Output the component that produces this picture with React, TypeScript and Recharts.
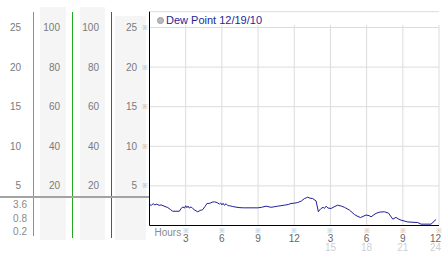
import React from "react";
import {
  ComposedChart,
  Line,
  XAxis,
  YAxis,
  CartesianGrid,
  ReferenceLine,
} from "recharts";

// hours since midnight, dew point (°C)
const hours = [
  0, 0.15, 0.3, 0.45, 0.6, 0.8, 0.96, 1.2, 1.51, 1.75, 1.92, 2.2, 2.48, 2.6,
  2.75, 2.9, 3.0, 3.1, 3.2, 3.3, 3.45, 3.58, 3.75, 4.0, 4.2, 4.41, 4.6, 4.77,
  5.0, 5.2, 5.38, 5.6, 5.8, 5.9, 6.0, 6.1, 6.21, 6.35, 6.5, 6.62, 6.9, 7.17,
  7.5, 7.87, 8.5, 8.97, 9.3, 9.66, 10.08, 10.4, 10.63, 10.9, 11.19, 11.5,
  11.73, 12.0, 12.29, 12.6, 12.84, 13.0, 13.12, 13.3, 13.53, 13.81, 14.0,
  14.1, 14.22, 14.4, 14.5, 14.64, 14.8, 15.05, 15.3, 15.6, 15.9, 16.16, 16.58,
  16.99, 17.2, 17.49, 17.7, 17.95, 18.2, 18.37, 18.6, 18.78, 19.1, 19.48,
  19.81, 20.17, 20.44, 20.6, 20.86, 21.41, 22.24, 22.51, 23.34, 23.76,
];
const dewPoint = [
  2.65, 2.55, 2.75, 2.6, 2.7, 2.55, 2.6, 2.45, 2.27, 2.0, 1.8, 1.8, 1.8, 2.1,
  2.35, 2.2, 2.5, 2.25, 2.45, 2.2, 2.35, 2.15, 1.95, 1.73, 1.9, 2.0, 2.4, 2.78,
  2.8, 2.95, 2.99, 2.9, 2.7, 2.85, 2.6, 2.8, 2.55, 2.75, 2.5, 2.5, 2.4, 2.32,
  2.25, 2.23, 2.23, 2.23, 2.3, 2.44, 2.3, 2.38, 2.44, 2.5, 2.57, 2.65, 2.78,
  2.82, 2.9, 3.1, 3.4, 3.5, 3.57, 3.45, 3.4, 3.1, 1.73, 1.95, 2.15, 2.3, 2.15,
  2.44, 2.2, 2.15, 2.35, 2.57, 2.45, 2.3, 1.94, 1.39, 1.2, 1.0, 1.15, 1.32,
  1.25, 1.1, 1.35, 1.53, 1.7, 1.73, 1.57, 0.8, 1.03, 0.85, 0.67, 0.45, 0.37,
  0.17, 0.17, 0.77,
];

const hourTicks = [0, 3, 6, 9, 12, 15, 18, 21, 24];
const tempTicks = [5, 10, 15, 20, 25];
const pctTicks = [20, 40, 60, 80, 100];
const precipLabels = ["3.6", "0.8", "0.2"];

const data = hours.map((h, i) => ({ h, v: dewPoint[i] }));

const FONT = "'Liberation Sans', Arial, sans-serif";

const sideTick =
  (mark: boolean) =>
  ({ x, y, payload }: any) => (
    <g>
      <text
        x={x - 12.5}
        y={y}
        dy={3.5}
        textAnchor="end"
        fill="#7a7a7a"
        fontSize={10}
        fontFamily={FONT}
      >
        {payload.value}
      </text>
      {mark && (
        <text x={x - 4.5} y={y} dy={2.5} textAnchor="middle" fill="#aaa" fontSize={7}>
          ※
        </text>
      )}
    </g>
  );

const HourTick = ({ x, y, payload }: any) => {
  const v = payload.value;
  if (v === 0) {
    return (
      <text x={x + 5} y={y + 10} fill="#8a8a8a" fontSize={10} fontFamily={FONT}>
        Hours
      </text>
    );
  }
  const top = v > 12 ? v - 12 : v;
  const anchor = v === 24 ? "end" : "middle";
  const tx = v === 24 ? x + 2 : x;
  return (
    <g>
      <text x={x} y={y + 7} textAnchor="middle" fill="#aaa" fontSize={7}>
        ※
      </text>
      <text x={tx} y={y + 16.5} textAnchor={anchor} fill="#666" fontSize={10} fontFamily={FONT}>
        {top}
      </text>
      {v >= 15 && (
        <text x={tx} y={y + 25.5} textAnchor={anchor} fill="#cfcfcf" fontSize={10} fontFamily={FONT}>
          {v}
        </text>
      )}
    </g>
  );
};

const box = (left: number, top: number, w: number, h: number, bg: string) => (
  <div style={{ position: "absolute", left, top, width: w, height: h, background: bg }} />
);

const sideAxes = [
  { id: "rh2", width: 39, domain: [0, 108], ticks: pctTicks },
  { id: "rh1", width: 39, domain: [0, 108], ticks: pctTicks },
  { id: "t1", width: 33, domain: [0, 27], ticks: tempTicks },
];

export default function App() {
  return (
    <div
      style={{
        position: "absolute",
        left: 0,
        top: 0,
        width: 442,
        height: 253,
        background: "#fff",
        fontFamily: FONT,
        overflow: "hidden",
      }}
    >
      {box(40, 7, 26, 233, "#f5f5f5")}
      {box(80, 7, 25, 233, "#f5f5f5")}
      {box(115, 16, 31, 224, "#f5f5f5")}
      {precipLabels.map((t, i) => (
        <div
          key={t}
          style={{
            position: "absolute",
            right: 442 - 27,
            top: 199 + i * 13.7,
            fontSize: 10,
            color: "#8a8a8a",
            lineHeight: "12px",
          }}
        >
          {t}
        </div>
      ))}
      <div style={{ position: "absolute", left: 0, top: 0 }}>
        <ComposedChart
          width={442}
          height={253}
          data={data}
          margin={{ top: 11.66, right: 3, bottom: 0, left: 0.5 }}
        >
          <CartesianGrid yAxisId="dp" vertical={false} stroke="#dcdcdc" />
          <XAxis
            dataKey="h"
            type="number"
            domain={[0, 24]}
            ticks={hourTicks}
            interval={0}
            height={27.5}
            tickLine={false}
            tickSize={0}
            tickMargin={0}
            axisLine={{ stroke: "#000" }}
            tick={HourTick}
          />
          <YAxis
            yAxisId="dp"
            width={38}
            domain={[0, 27]}
            ticks={tempTicks}
            interval={0}
            tickLine={false}
            tickSize={0}
            tickMargin={0}
            axisLine={{ stroke: "#000" }}
            tick={sideTick(true)}
          />
          {sideAxes.map((a) => (
            <YAxis
              key={a.id}
              yAxisId={a.id}
              width={a.width}
              domain={a.domain}
              ticks={a.ticks}
              interval={0}
              tickLine={false}
              tickSize={0}
              tickMargin={0}
              axisLine={false}
              tick={sideTick(false)}
            />
          ))}
          {sideAxes.map((a) => (
            <Line
              key={a.id}
              yAxisId={a.id}
              dataKey="v"
              stroke="none"
              dot={false}
              activeDot={false}
              legendType="none"
              isAnimationActive={false}
            />
          ))}
          {hourTicks.slice(1).map((t) => (
            <ReferenceLine
              key={t}
              yAxisId="dp"
              segment={[
                { x: t, y: 0 },
                { x: t, y: 25.3 },
              ]}
              stroke="#dcdcdc"
            />
          ))}
          <Line
            yAxisId="dp"
            dataKey="v"
            type="linear"
            stroke="#1f1f99"
            strokeWidth={1}
            dot={false}
            isAnimationActive={false}
          />
        </ComposedChart>
      </div>
      {box(33, 12, 1, 224, "#10bde8")}
      {box(72, 12, 1, 226, "#22aa22")}
      {box(111, 12, 1, 226, "#d02424")}
      {box(0, 196, 149, 2, "#a3a3a3")}
      <div
        style={{
          position: "absolute",
          left: 157,
          top: 13,
          display: "flex",
          alignItems: "center",
          fontSize: 11,
          color: "#1f1f99",
          lineHeight: "14px",
        }}
      >
        <span
          style={{
            display: "inline-block",
            width: 5,
            height: 5,
            borderRadius: "50%",
            background: "#bbb",
            border: "1px solid #999",
            marginRight: 2,
          }}
        />
        Dew Point 12/19/10
      </div>
    </div>
  );
}
